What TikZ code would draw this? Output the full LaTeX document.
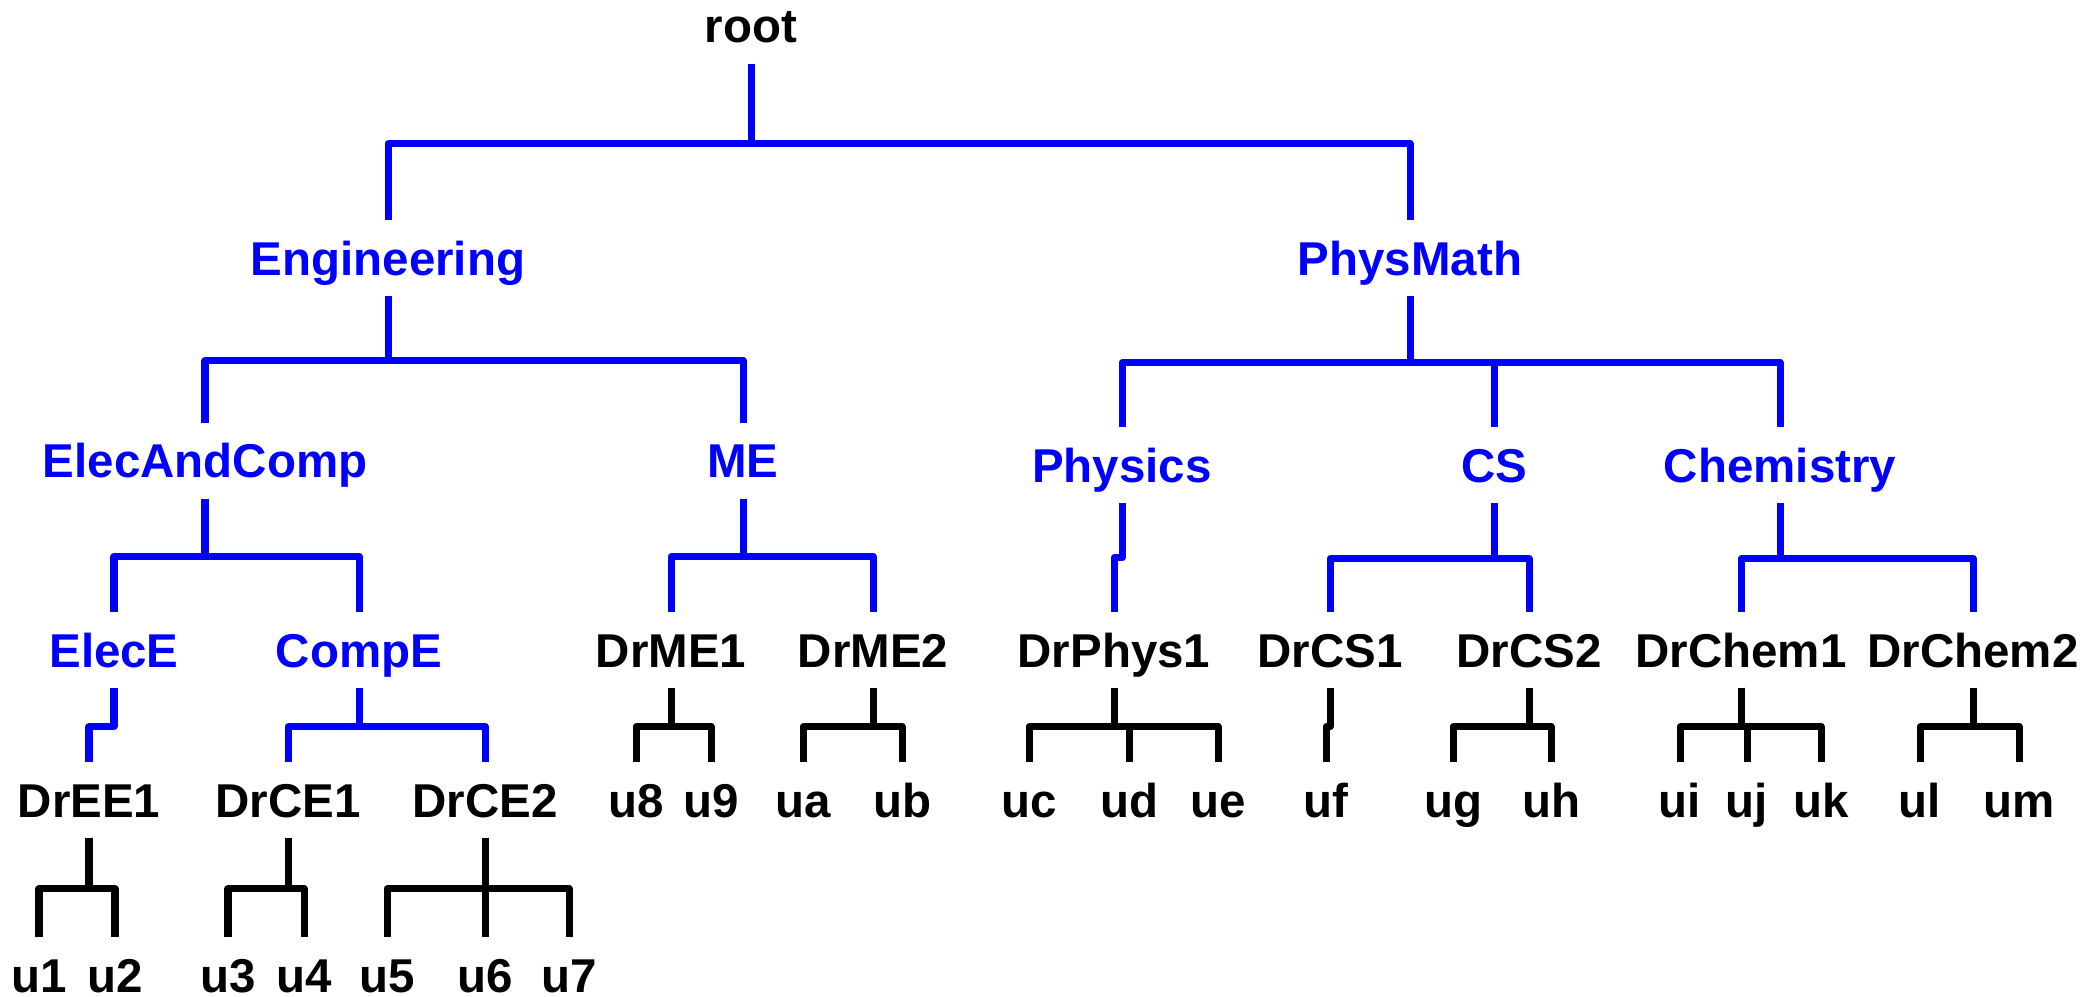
\documentclass[tikz,border=0pt]{standalone}
\usepackage{fontspec}
\setmainfont{Liberation Sans}
\usepackage{tikz}
\usetikzlibrary{positioning}
\definecolor{grpblue}{RGB}{0,0,255}

\tikzset{
  lbl/.style={font=\bfseries\fontsize{13.5}{16}\selectfont, anchor=base,
    text height=0.34cm, text depth=0pt, inner xsep=0pt, inner ysep=0.2cm},
  grp/.style={lbl, text=grpblue},
  prof/.style={lbl, text=black},
  link/.style={line width=0.07cm, line join=round},
  grplink/.style={link, draw=grpblue},
  proflink/.style={link, draw=black},
}

\begin{document}
\begin{tikzpicture}[x=0.01cm, y=-0.01cm]
\useasboundingbox (0,0) rectangle (2093,997);
% groups
\node[prof] (root) at (751,43) {root};
\node[grp] (eng) at (388,275) {Engineering};
\node[grp] (physmath) at (1410,275) {PhysMath};
\node[grp] (eac) at (205,478) {ElecAndComp};
\node[grp] (me) at (743,478) {ME};
\node[grp] (physics) at (1122,482) {Physics};
\node[grp] (cs) at (1494,482) {CS};
\node[grp] (chem) at (1780,482) {Chemistry};
\node[grp] (elece) at (114,667) {ElecE};
\node[grp] (compe) at (359,667) {CompE};
% professors
\foreach \n/\x/\t in {drme1/671/DrME1, drme2/873/DrME2, drphys1/1114/DrPhys1,
    drcs1/1330/DrCS1, drcs2/1529/DrCS2, drchem1/1741/DrChem1, drchem2/1973/DrChem2}
  \node[prof] (\n) at (\x,667) {\t};
\foreach \n/\x/\t in {dree1/89/DrEE1, drce1/288/DrCE1, drce2/485/DrCE2}
  \node[prof] (\n) at (\x,817) {\t};
% students
\foreach \n/\x in {u8/636, u9/711, ua/803, ub/902, uc/1029, ud/1129, ue/1218,
    uf/1326, ug/1453, uh/1551, ui/1680, uj/1747, uk/1821, ul/1920, um/2019}
  \node[prof] (\n) at (\x,817) {\n};
\foreach \n/\x in {u1/39, u2/115, u3/228, u4/304, u5/387, u6/485, u7/569}
  \node[prof] (\n) at (\x,992) {\n};

% links
\foreach \p/\c/\d in {root/eng/80, root/physmath/80, eng/eac/65, eng/me/65,
    physmath/physics/67, physmath/cs/67, physmath/chem/67,
    eac/elece/58, eac/compe/58, me/drme1/58, me/drme2/58, physics/drphys1/55,
    cs/drcs1/56, cs/drcs2/56, chem/drchem1/56, chem/drchem2/56,
    elece/dree1/39, compe/drce1/39, compe/drce2/39}
  \draw[grplink] (\p.south) -- ++(0,\d) -| (\c.north);
\foreach \p/\c/\d in {drme1/u8/39, drme1/u9/39, drme2/ua/39, drme2/ub/39,
    drphys1/uc/39, drphys1/ud/39, drphys1/ue/39, drcs1/uf/39, drcs2/ug/39, drcs2/uh/39,
    drchem1/ui/39, drchem1/uj/39, drchem1/uk/39, drchem2/ul/39, drchem2/um/39,
    dree1/u1/51, dree1/u2/51, drce1/u3/51, drce1/u4/51,
    drce2/u5/51, drce2/u6/51, drce2/u7/51}
  \draw[proflink] (\p.south) -- ++(0,\d) -| (\c.north);
\end{tikzpicture}
\end{document}
